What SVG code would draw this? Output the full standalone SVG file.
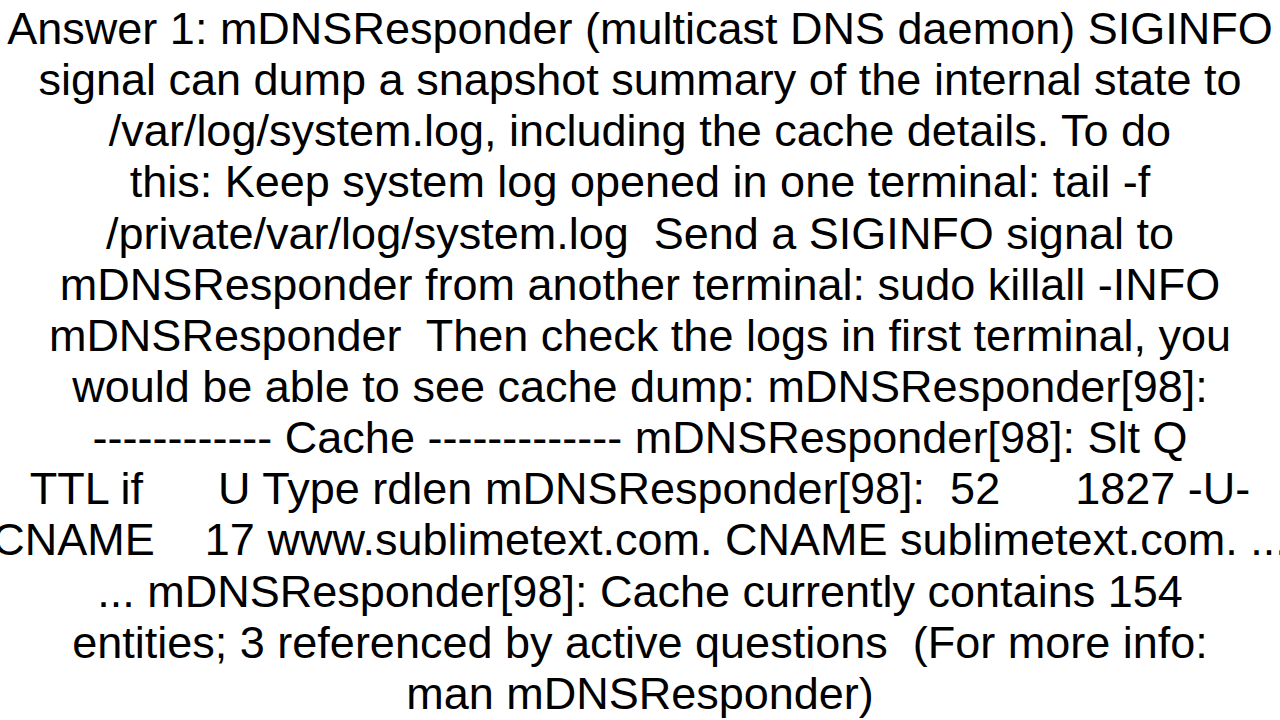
<svg xmlns="http://www.w3.org/2000/svg" width="1280" height="720" viewBox="0 0 1280 720">
<style>
text{font-family:"Liberation Sans",Arial,sans-serif;font-size:45px;fill:#000;text-anchor:middle;white-space:pre}
</style>
<rect width="1280" height="720" fill="#fff"/>
<g id="answer" xml:space="preserve">
<text x="640" y="44">Answer 1: mDNSResponder (multicast DNS daemon) SIGINFO</text>
<text x="640" y="95">signal can dump a snapshot summary of the internal state to</text>
<text x="640" y="146">/var/log/system.log, including the cache details. To do</text>
<text x="640" y="197">this: Keep system log opened in one terminal: tail -f</text>
<text x="640" y="249">/private/var/log/system.log  Send a SIGINFO signal to</text>
<text x="640" y="300">mDNSResponder from another terminal: sudo killall -INFO</text>
<text x="640" y="351">mDNSResponder  Then check the logs in first terminal, you</text>
<text x="640" y="402">would be able to see cache dump: mDNSResponder[98]:</text>
<text x="640" y="453">------------ Cache ------------- mDNSResponder[98]: Slt Q</text>
<text x="640" y="504">TTL if      U Type rdlen mDNSResponder[98]:  52      1827 -U-</text>
<text x="640" y="555">CNAME    17 www.sublimetext.com. CNAME sublimetext.com. ...</text>
<text x="640" y="607">... mDNSResponder[98]: Cache currently contains 154</text>
<text x="640" y="658">entities; 3 referenced by active questions  (For more info:</text>
<text x="640" y="709">man mDNSResponder)</text>
</g>
</svg>
